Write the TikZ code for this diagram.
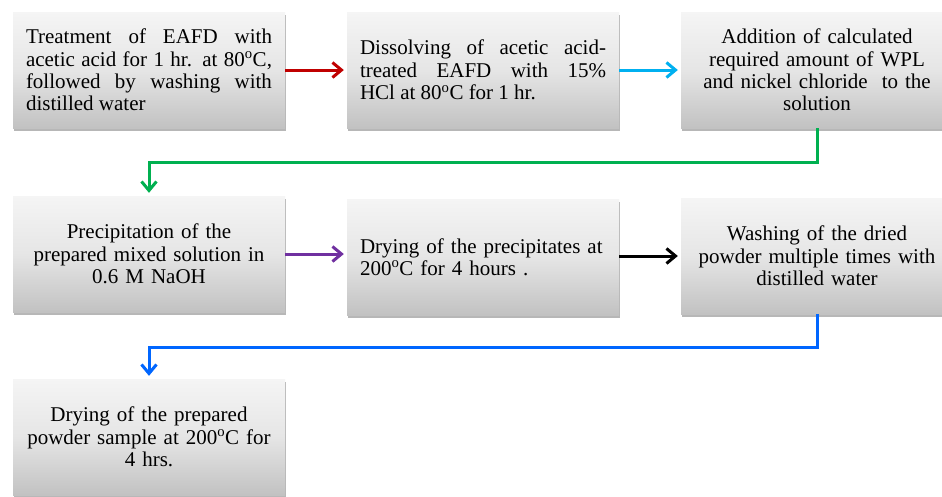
\documentclass[tikz,border=0pt]{standalone}
\usepackage{fontspec}
\setmainfont{Liberation Serif}
\usetikzlibrary{arrows.meta,shadows}
\hyphenpenalty=10000
\definecolor{cred}{HTML}{C00000}
\definecolor{ccyan}{HTML}{00B0F0}
\definecolor{cgreen}{HTML}{00B050}
\definecolor{cpurple}{HTML}{7030A0}
\definecolor{cblue}{HTML}{0066FF}
\tikzset{
  stepbox/.style={rectangle, minimum width=272pt, minimum height=116pt, inner sep=0pt,
    top color=gray!8, bottom color=gray!48, middle color=gray!20,
    drop shadow={shadow xshift=1pt, shadow yshift=-3pt, fill=gray!70, opacity=0.8},
    font=\fontsize{21}{22.3}\selectfont, text width=246pt},
  just/.style={align=justify},
  cen/.style={align=center, text width=262pt},
  lft/.style={align=left},
  conn/.style={line width=3pt, -{Straight Barb[length=9pt,width=15pt,line width=3pt]}, shorten >=3pt}
}
\begin{document}
\begin{tikzpicture}[x=1pt,y=-1pt]
\clip (0,0) rectangle (942,496);
\fill[white] (0,0) rectangle (942,496);
\node[stepbox,just] (b1) at (149,70) {Treatment of EAFD with\linebreak acetic acid for 1 hr. at 80\textsuperscript{o}C,\linebreak followed by washing with\linebreak distilled water};
\node[stepbox,just] (b2) at (483,70) {Dissolving of acetic acid-\linebreak treated EAFD with 15\%\linebreak HCl at 80\textsuperscript{o}C for 1 hr.};
\node[stepbox,cen] (b3) at (817,70) {Addition of calculated\\ required amount of WPL\\ and nickel chloride\ \ to the\\ solution};
\node[stepbox,cen] (b4) at (149,254) {Precipitation of the\\ prepared mixed solution in\\ 0.6 M NaOH};
\node[stepbox,lft] (b5) at (483,257) {Drying of the precipitates at\\ 200\textsuperscript{o}C for 4 hours .};
\node[stepbox,cen] (b6) at (817,256) {Washing of the dried\\ powder multiple times with\\ distilled water};
\node[stepbox,cen] (b7) at (149,437) {Drying of the prepared\\ powder sample at 200\textsuperscript{o}C for\\ 4 hrs.};
\draw[conn,cred] (b1.east) -- (b2.west);
\draw[conn,ccyan] (b2.east) -- (b3.west);
\draw[conn,cgreen] (b3.south) -- ++(0,34) -| (b4.north);
\draw[conn,cpurple] (b4.east) -- (b4.east -| b5.west);
\draw[conn,black] (b5.east |- b6.west) -- (b6.west);
\draw[conn,cblue] (b6.south) -- ++(0,33) -| (b7.north);
\end{tikzpicture}
\end{document}
